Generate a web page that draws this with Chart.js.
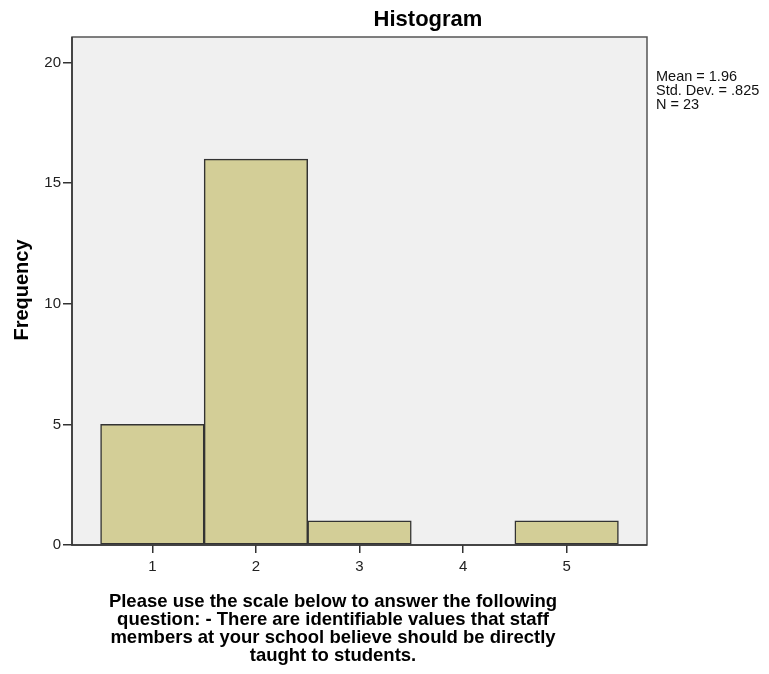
<!DOCTYPE html>
<html>
<head>
<meta charset="utf-8">
<script src="https://cdn.jsdelivr.net/npm/chart.js@4/dist/chart.umd.min.js"></script>
<style>
  html, body { margin: 0; padding: 0; background: #fff; }
  #wrap { width: 769px; height: 674px; }
</style>
</head>
<body>
<div id="wrap"><canvas id="chart" width="769" height="674"></canvas></div>
<script>
// histogram bins (midpoints) and frequencies
const binMids = [1, 2, 3, 4, 5];
const freqs = [5, 16, 1, 0, 1];
const yTicks = [0, 5, 10, 15, 20];
const xTicks = [1, 2, 3, 4, 5];
const stats = ["Mean = 1.96", "Std. Dev. = .825", "N = 23"];
const xTitle = [
  "Please use the scale below to answer the following",
  "question: - There are identifiable values that staff",
  "members at your school believe should be directly",
  "taught to students."
];

const points = binMids.map((x, i) => ({ x: x, y: freqs[i] || null }));
const FONT = "'Liberation Sans', Arial, sans-serif";

const textPlugin = {
  id: "texts",
  beforeDraw(chart) {
    const { ctx, chartArea: a } = chart;
    ctx.save();
    ctx.fillStyle = "#f0f0f0";
    ctx.fillRect(a.left, a.top, a.right - a.left, a.bottom - a.top);
    ctx.restore();
  },
  afterDraw(chart) {
    const { ctx, chartArea: a } = chart;
    ctx.save();
    ctx.strokeStyle = "#555";
    ctx.lineWidth = 1.5;
    ctx.strokeRect(a.left, a.top, a.right - a.left, a.bottom - a.top);
    // darker axis lines on left and bottom
    ctx.strokeStyle = "#333";
    ctx.beginPath();
    ctx.moveTo(a.left, a.top);
    ctx.lineTo(a.left, a.bottom);
    ctx.lineTo(a.right, a.bottom);
    ctx.stroke();

    ctx.fillStyle = "#000";
    ctx.textAlign = "center";
    ctx.textBaseline = "alphabetic";
    ctx.font = "bold 22px " + FONT;
    ctx.fillText("Histogram", 428, 26);

    ctx.fillStyle = "#111";
    ctx.font = "14.5px " + FONT;
    ctx.textAlign = "left";
    stats.forEach((s, i) => ctx.fillText(s, 656, 80.5 + i * 14));

    ctx.fillStyle = "#000";
    ctx.font = "bold 18.5px " + FONT;
    ctx.textAlign = "center";
    xTitle.forEach((s, i) => ctx.fillText(s, 333, 607 + i * 18));

    ctx.font = "bold 20px " + FONT;
    ctx.translate(27.5, 290);
    ctx.rotate(-Math.PI / 2);
    ctx.fillText("Frequency", 0, 0);
    ctx.restore();
  }
};

new Chart(document.getElementById("chart"), {
  type: "bar",
  data: {
    datasets: [{
      data: points,
      backgroundColor: "#d3ce97",
      borderColor: "#333",
      borderWidth: 1.5,
      borderSkipped: false,
      barPercentage: 1,
      categoryPercentage: 1
    }]
  },
  options: {
    responsive: false,
    animation: false,
    layout: { padding: { top: 37, right: 122, left: 0, bottom: 0 } },
    plugins: { legend: { display: false }, tooltip: { enabled: false } },
    scales: {
      x: {
        type: "linear",
        min: 0.224,
        max: 5.776,
        offset: false,
        afterBuildTicks: s => { s.ticks = xTicks.map(v => ({ value: v })); },
        afterFit: s => { s.height = 674 - 545; },
        grid: { offset: false, drawOnChartArea: false, drawTicks: true, tickLength: 8, color: "#333", lineWidth: 1.5 },
        border: { display: false },
        ticks: { color: "#222", font: { family: FONT, size: 15 }, padding: 5, maxRotation: 0 }
      },
      y: {
        min: 0,
        max: 21.06,
        afterBuildTicks: s => { s.ticks = yTicks.map(v => ({ value: v })); },
        afterFit: s => { s.width = 72; },
        grid: { drawOnChartArea: false, drawTicks: true, tickLength: 9, color: "#333", lineWidth: 1.5 },
        border: { display: false },
        ticks: { color: "#222", font: { family: FONT, size: 15 }, padding: 2 }
      }
    }
  },
  plugins: [textPlugin]
});
</script>
</body>
</html>
